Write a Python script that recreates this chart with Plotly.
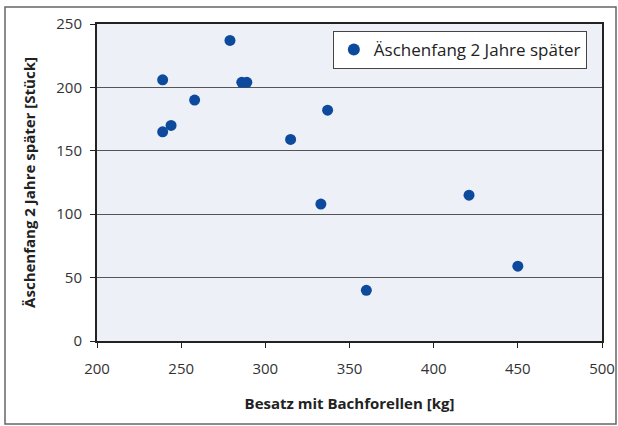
import plotly.graph_objects as go

series_name = "Äschenfang 2 Jahre später"
besatz_kg = [239, 239, 244, 258, 279, 286, 289, 315, 337, 333, 421, 360, 450]
aeschen_stueck = [206, 165, 170, 190, 237, 204, 204, 159, 182, 108, 115, 40, 59]
x_ticks = [200, 250, 300, 350, 400, 450, 500]
y_ticks = [0, 50, 100, 150, 200, 250]

W, H = 618, 426
ml, mr, mt, mb = 97, 16, 24, 85
pw, ph = W - ml - mr, H - mt - mb

font_fam = "Open Sans, Noto Sans, sans-serif"

fig = go.Figure()
fig.add_trace(go.Scatter(
    x=besatz_kg, y=aeschen_stueck, mode="markers", name=series_name,
    marker=dict(color="#0d4a9e", size=11, line=dict(width=0)),
))

fig.update_layout(
    width=W, height=H,
    margin=dict(l=ml, r=mr, t=mt, b=mb, autoexpand=False),
    paper_bgcolor="white",
    plot_bgcolor="#edf0f6",
    font=dict(family=font_fam, color="#222", size=14),
    showlegend=True,
    legend=dict(
        x=0.97, y=0.978, xanchor="right", yanchor="top",
        bgcolor="white", bordercolor="#444", borderwidth=1,
        font=dict(size=17, color="#222"),
        itemsizing="constant",
    ),
    xaxis=dict(
        range=[200, 500], tickvals=x_ticks, ticktext=[str(v) for v in x_ticks],
        showgrid=False, zeroline=False,
        showline=True, linecolor="#222", linewidth=2, mirror=True,
        ticks="outside", ticklen=5, tickcolor="#222",
        ticklabelstandoff=8,
        tickfont=dict(size=15, color="#333"),
        title=dict(text="<b>Besatz mit Bachforellen [kg]</b>", font=dict(size=15, color="#222"), standoff=21),
    ),
    yaxis=dict(
        range=[0, 250], tickvals=y_ticks, ticktext=[str(v) for v in y_ticks],
        showgrid=True, gridcolor="#555", gridwidth=1, zeroline=False,
        showline=True, linecolor="#222", linewidth=2, mirror=True,
        ticks="outside", ticklen=5, tickcolor="#222",
        ticklabelstandoff=5,
        tickfont=dict(size=15, color="#333"),
        title=dict(text="<b>Äschenfang 2 Jahre später [Stück]</b>", font=dict(size=15, color="#222"), standoff=17),
    ),
    shapes=[dict(
        type="rect", xref="paper", yref="paper",
        x0=(5 - ml) / pw, x1=(616 - ml) / pw,
        y0=(H - mb - 424) / ph, y1=(H - mb - 7) / ph,
        line=dict(color="#666", width=1.5), layer="below",
    )],
)

fig.write_html(
    "out.html",
    config={"displayModeBar": False},
    post_script="document.body.style.margin='0';document.body.style.overflow='hidden';",
)
